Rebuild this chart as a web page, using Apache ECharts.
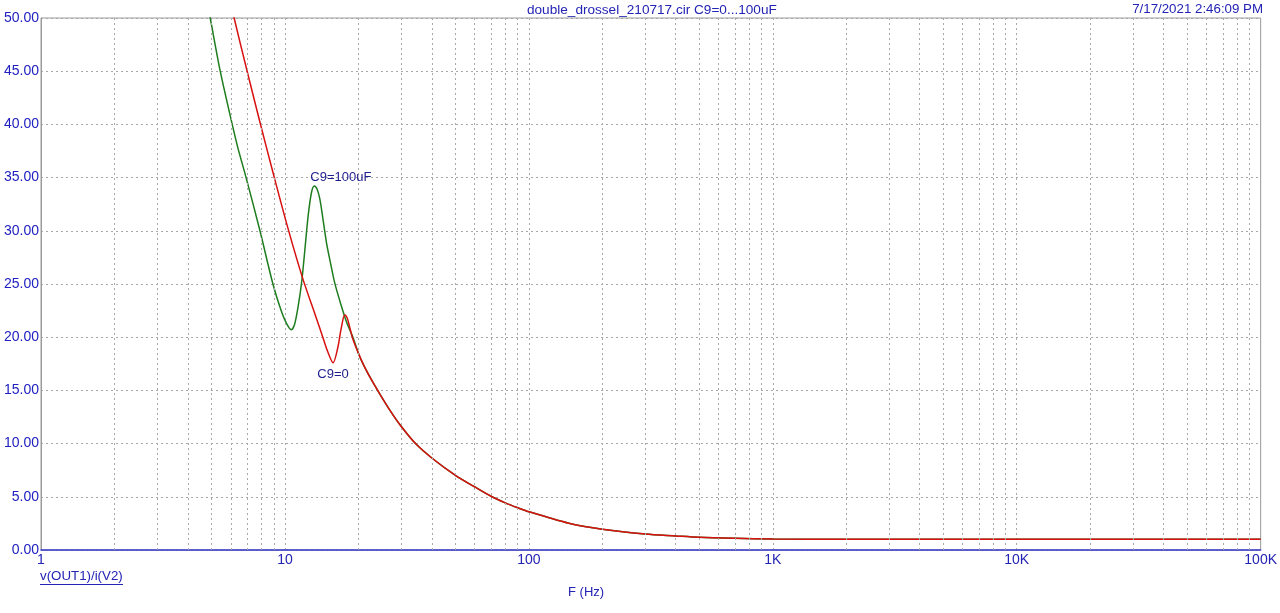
<!DOCTYPE html>
<html lang="en">
<head>
    <meta charset="UTF-8">
    <title>double_drossel_210717</title>
    <script type="text/javascript" src="https://cdn.jsdelivr.net/npm/echarts/dist/echarts.min.js"></script>
    <style>
        html, body { margin: 0; padding: 0; background: #fff; }
    </style>
</head>
<body>
<div id="main" style="width:1280px;height:613px;"></div>
<script>
    // C9=100uF, low frequency part (Hz, value)
    const greenFreq = [4.8, 4.94, 5.43, 6.08, 6.43, 6.93, 7.9, 8.93, 9.72, 10.2, 10.6, 10.95, 11.33, 11.7, 12.07, 12.45, 12.85, 13.2, 13.55, 13.9, 14.3, 14.8, 15.4, 16.0, 17.0, 17.9, 19.0];
    const greenVal  = [51.5, 50.0, 45.0, 40.0, 37.7, 35.0, 30.0, 25.0, 22.3, 21.2, 20.7, 21.2, 22.9, 25.1, 28.2, 31.4, 33.6, 34.2, 33.9, 33.0, 31.2, 28.9, 26.9, 25.1, 23.0, 21.4, 20.0];
    // C9=0, low frequency part
    const redFreq = [6.0, 6.19, 7.0, 7.9, 9.0, 10.3, 11.8, 13.4, 14.3, 15.0, 15.75, 16.5, 17.0, 17.6, 18.0, 18.4, 19.0];
    const redVal  = [51.5, 50.0, 45.0, 40.2, 35.2, 30.2, 25.6, 21.9, 20.0, 18.6, 17.6, 19.1, 20.8, 22.1, 21.8, 21.0, 19.8];
    // common tail, both curves lie on top of each other
    const tailFreq = [20, 21, 22.5, 24, 27, 30, 34.3, 40, 50, 60, 70, 80, 90, 100, 150, 200, 300, 400, 500, 700, 1000, 2000, 5000, 10000, 100000];
    const tailVal  = [18.5, 17.4, 16.1, 15.0, 13.1, 11.6, 10.0, 8.65, 7.02, 5.93, 5.05, 4.43, 3.97, 3.6, 2.44, 1.95, 1.5, 1.32, 1.19, 1.1, 1.04, 1.01, 1.0, 1.0, 1.0];
    // grid lines between decades
    const minorFreq = [];
    [1, 10, 100, 1000, 10000].forEach(d => {
        for (let k = 2; k <= 9; k++) minorFreq.push(k * d);
    });

    const blue = '#2323b4';
    const gridLine = { color: '#a8a8a8', width: 1, type: [2, 3] };

    function pairs(fs, vs) {
        return fs.map((f, i) => [f, vs[i]]);
    }
    const greenData = pairs(greenFreq, greenVal).concat(pairs(tailFreq, tailVal));
    const redData = pairs(redFreq, redVal).concat(pairs(tailFreq, tailVal));

    // curve name labels, hung on a point of each curve
    function nameMark(coord, text, align, offset) {
        return {
            symbol: 'circle',
            symbolSize: 1,
            itemStyle: { color: 'rgba(0,0,0,0)' },
            silent: true,
            data: [{ coord: coord }],
            label: {
                show: true,
                position: 'inside',
                formatter: text,
                color: '#1e1e8c',
                fontSize: 13,
                align: align,
                verticalAlign: 'middle',
                offset: offset
            }
        };
    }

    let myChart = echarts.init(document.getElementById('main'));
    let txt = { color: blue, fontSize: 13, fontWeight: 'normal' };
    let option = {
        backgroundColor: '#fff',
        animation: false,
        textStyle: { fontFamily: 'Liberation Sans, Arial, sans-serif' },
        title: [
            { text: 'double_drossel_210717.cir C9=0...100uF', left: 527, top: 3, padding: 0, textStyle: Object.assign({}, txt, { fontSize: 13.6 }) },
            { text: '7/17/2021 2:46:09 PM', right: 17, top: 3, padding: 0, textStyle: Object.assign({}, txt, { fontSize: 13.3 }) },
            { text: 'v(OUT1)/i(V2)', left: 40, top: 570, padding: 0, textStyle: Object.assign({}, txt, { fontSize: 13.3 }) },
            { text: 'F (Hz)', left: 568, top: 586, padding: 0, textStyle: txt }
        ],
        graphic: [
            {
                type: 'line',
                shape: { x1: 40, y1: 584.5, x2: 123, y2: 584.5 },
                style: { stroke: blue, lineWidth: 1 }
            }
        ],
        grid: {
            left: 41, right: 15, top: 18, bottom: 63,
            show: true,
            borderColor: '#9a9a9a',
            borderWidth: 1
        },
        xAxis: {
            type: 'log',
            logBase: 10,
            min: 1,
            max: 100000,
            axisLine: { lineStyle: { color: '#3a3ad0', width: 1.5 } },
            axisTick: { show: false },
            axisLabel: {
                color: blue,
                fontSize: 14,
                margin: 3,
                formatter: v => {
                    if (v >= 1000) return (v / 1000) + 'K';
                    return String(v);
                }
            },
            splitLine: { show: true, lineStyle: gridLine }
        },
        yAxis: {
            type: 'value',
            min: 0,
            max: 50,
            interval: 5,
            axisLine: { show: true, lineStyle: { color: '#9a9a9a' } },
            axisTick: { show: false },
            axisLabel: {
                color: '#2020c0',
                fontSize: 14,
                margin: 2,
                formatter: v => v.toFixed(2)
            },
            splitLine: { show: true, lineStyle: gridLine }
        },
        series: [
            {
                type: 'line',
                data: [],
                silent: true,
                markLine: {
                    silent: true,
                    symbol: 'none',
                    label: { show: false },
                    lineStyle: gridLine,
                    data: minorFreq.map(f => ({ xAxis: f }))
                }
            },
            {
                name: 'C9=100uF',
                type: 'line',
                data: greenData,
                showSymbol: false,
                smooth: 0.3,
                clip: true,
                lineStyle: { color: '#1e7d1e', width: 1.5 },
                markPoint: nameMark([13.2, 34.2], 'C9=100uF', 'left', [-4, -9])
            },
            {
                name: 'C9=0',
                type: 'line',
                data: redData,
                showSymbol: false,
                smooth: 0.3,
                clip: true,
                lineStyle: { color: '#d81010', width: 1.5 },
                markPoint: nameMark([15.75, 17.6], 'C9=0', 'center', [0, 12])
            }
        ]
    };
    myChart.setOption(option);
</script>
</body>
</html>
